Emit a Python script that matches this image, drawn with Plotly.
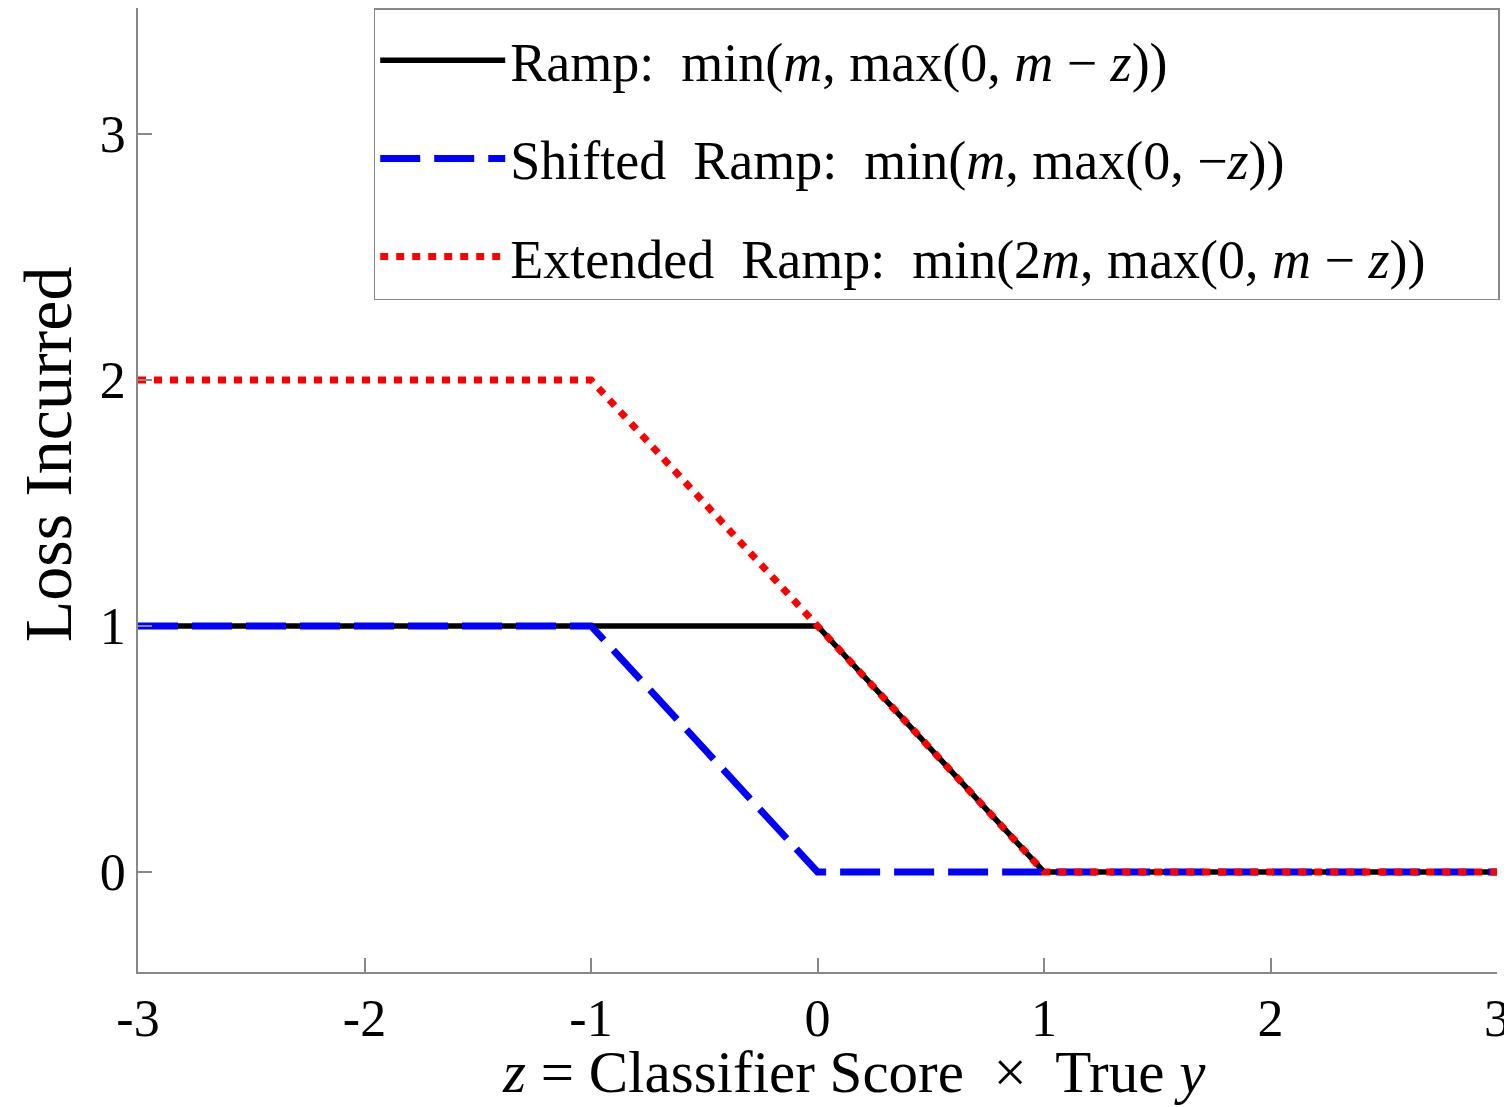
import plotly.graph_objects as go

# Data: piecewise-linear losses as functions of z
ramp_x = [-3, 0, 1, 3]
ramp_y = [1, 1, 0, 0]
shift_x = [-3, -1, 0, 3]
shift_y = [1, 1, 0, 0]
ext_x = [-3, -1, 1, 3]
ext_y = [2, 2, 0, 0]

x_ticks = [-3, -2, -1, 0, 1, 2, 3]
x_tick_labels = ["-3", "-2", "-1", "0", "1", "2", "3"]
y_ticks = [0, 1, 2, 3]
y_tick_labels = ["0", "1", "2", "3"]

names = [
    "Ramp:  min(<i>m</i>, max(0, <i>m</i> − <i>z</i>))",
    "Shifted  Ramp:  min(<i>m</i>, max(0, −<i>z</i>))",
    "Extended  Ramp:  min(2<i>m</i>, max(0, <i>m</i> − <i>z</i>))&nbsp;&nbsp;&nbsp;&nbsp;&nbsp;",
]
x_title = "<i>z</i> = Classifier Score  ×  True <i>y</i>"
y_title = "Loss Incurred"

SERIF = "Liberation Serif"
AX = "#888888"

fig = go.Figure()
fig.add_trace(go.Scatter(x=ramp_x, y=ramp_y, mode="lines", name=names[0],
                         legendgroup="a",
                         line=dict(color="black", width=5.5)))
fig.add_trace(go.Scatter(x=shift_x, y=shift_y, mode="lines", name=names[1],
                         legendgroup="b",
                         line=dict(color="#0000ff", width=7, dash="40px,14px")))
fig.add_trace(go.Scatter(x=ext_x, y=ext_y, mode="lines", name=names[2],
                         legendgroup="c",
                         line=dict(color="#ff0000", width=7, dash="8px,8px")))

# The page body has an 8px default margin, so the figure is offset by 8px.
fig.update_layout(
    width=1504, height=1099,
    margin=dict(l=130, r=15, t=0, b=135),
    plot_bgcolor="white", paper_bgcolor="white",
    font=dict(family=SERIF, color="black"),
    showlegend=True,
    legend=dict(
        x=1.002, y=1.0, xanchor="right", yanchor="top",
        bgcolor="white", bordercolor=AX, borderwidth=1.5,
        font=dict(family=SERIF, size=54, color="black"),
        traceorder="grouped", tracegroupgap=25,
        itemwidth=125,
        title=dict(text="&nbsp;", font=dict(size=7)),
    ),
    xaxis=dict(
        range=[-3, 3], tickvals=x_ticks, ticktext=x_tick_labels,
        showline=True, linecolor=AX, linewidth=1.5,
        ticks="inside", ticklen=14, tickcolor=AX, tickwidth=1.5,
        showgrid=False, zeroline=False, automargin=False,
        tickfont=dict(family=SERIF, size=52),
    ),
    yaxis=dict(
        range=[-0.407, 3.512], tickvals=y_ticks, ticktext=y_tick_labels,
        showline=True, linecolor=AX, linewidth=1.5,
        ticks="inside", ticklen=14, tickcolor=AX, tickwidth=1.5,
        showgrid=False, zeroline=False, automargin=False,
        tickfont=dict(family=SERIF, size=52),
    ),
    annotations=[
        dict(text=x_title, xref="paper", yref="paper", x=0.527, y=0,
             xanchor="center", yanchor="middle", yshift=-100, showarrow=False,
             font=dict(family=SERIF, size=59, color="black")),
        dict(text=y_title, xref="paper", yref="paper", x=0, y=0.537,
             xanchor="center", yanchor="middle", xshift=-90, textangle=-90,
             showarrow=False, font=dict(family=SERIF, size=68, color="black")),
    ],
)

fig.write_html("out.html")
